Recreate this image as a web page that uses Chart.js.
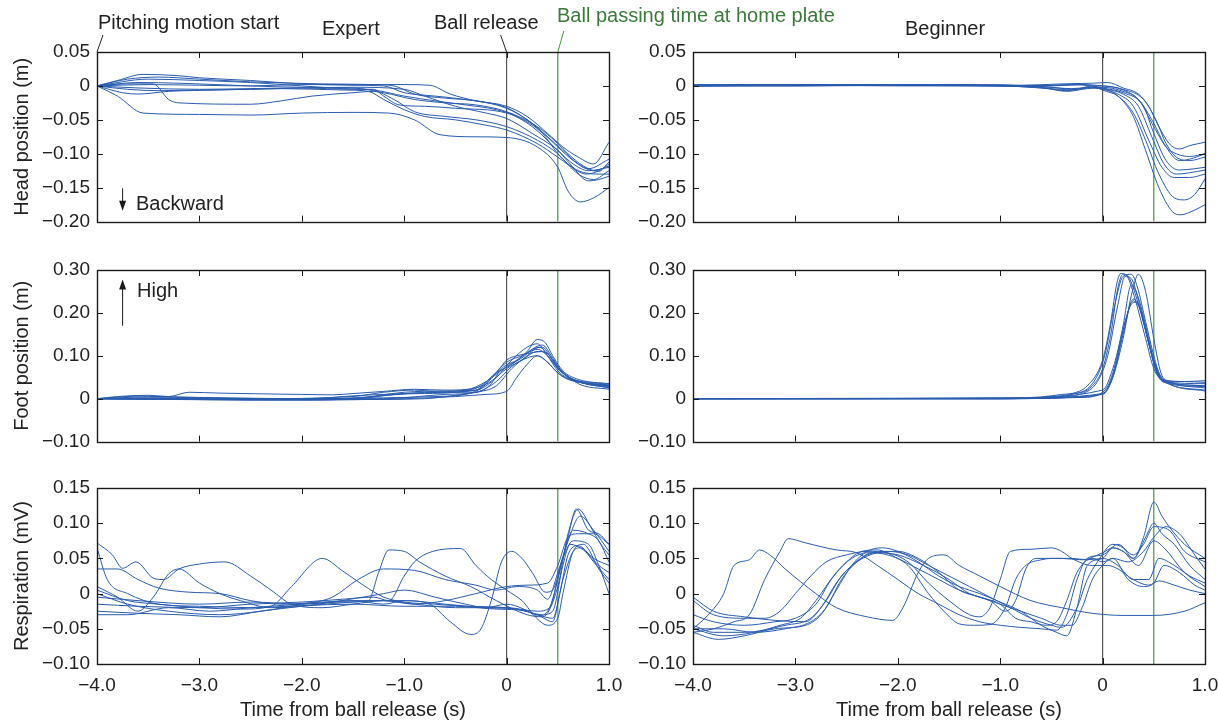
<!DOCTYPE html>
<html>
<head>
<meta charset="utf-8">
<script src="https://cdn.jsdelivr.net/npm/chart.js@4.4.1/dist/chart.umd.min.js"></script>
<style>
body { margin:0; background:#fff; width:1218px; height:724px; overflow:hidden; position:relative;
       font-family:"Liberation Sans", Arial, sans-serif; }
canvas { position:absolute; }
.lbl { position:absolute; font-size:20px; line-height:24px; color:#222; white-space:nowrap; }
</style>
</head>
<body>
<canvas id="c1" width="640" height="240" style="left:0;top:0"></canvas>
<canvas id="c2" width="598" height="240" style="left:620px;top:0"></canvas>
<canvas id="c3" width="640" height="220" style="left:0;top:240px"></canvas>
<canvas id="c4" width="598" height="220" style="left:620px;top:240px"></canvas>
<canvas id="c5" width="640" height="264" style="left:0;top:460px"></canvas>
<canvas id="c6" width="598" height="264" style="left:620px;top:460px"></canvas>

<div class="lbl" style="left:98px;top:10px">Pitching motion start</div>
<div class="lbl" style="left:322px;top:16px">Expert</div>
<div class="lbl" style="left:434px;top:10px">Ball release</div>
<div class="lbl" style="left:557px;top:3px;color:#3b7a3b">Ball passing time at home plate</div>
<div class="lbl" style="left:905px;top:16px">Beginner</div>
<div class="lbl" style="left:136px;top:191px">Backward</div>
<div class="lbl" style="left:137px;top:278px">High</div>

<script>
// ===============================
// Tick values / labels
// ===============================
const xTicks = [-4, -3, -2, -1, 0, 1];
const xTickLabels = ['−4.0', '−3.0', '−2.0', '−1.0', '0', '1.0'];
const headTicks = [-0.20, -0.15, -0.10, -0.05, 0, 0.05];
const headTickLabels = ['−0.20', '−0.15', '−0.10', '−0.05', '0', '0.05'];
const footTicks = [-0.10, 0, 0.10, 0.20, 0.30];
const footTickLabels = ['−0.10', '0', '0.10', '0.20', '0.30'];
const respTicks = [-0.10, -0.05, 0, 0.05, 0.10, 0.15];
const respTickLabels = ['−0.10', '−0.05', '0', '0.05', '0.10', '0.15'];

// event times (s)
const releaseTime = 0;
const plateTime = 0.5;

// ===============================
// Traces: [time, value] pairs
// ===============================
const expertHead = [
  [[-4,0],[-3.8,-0.015],[-3.55,-0.04],[-3,-0.042],[-2.5,-0.043],[-2,-0.04],[-1.5,-0.039],[-1.15,-0.04],[-0.9,-0.05],[-0.65,-0.072],[-0.3,-0.075],[0,-0.076],[0.3,-0.09],[0.5,-0.12],[0.6,-0.155],[0.72,-0.171],[0.85,-0.165],[1,-0.15]],
  [[-4,0],[-3.7,0.003],[-3.45,0.003],[-3.3,-0.02],[-3.2,-0.025],[-2.5,-0.027],[-2.2,-0.022],[-1.9,-0.015],[-1.5,-0.01],[-1.3,-0.008],[-1.1,-0.02],[-0.9,-0.038],[-0.6,-0.045],[-0.3,-0.05],[0,-0.06],[0.3,-0.08],[0.5,-0.1],[0.7,-0.13],[0.85,-0.138],[1,-0.125]],
  [[-4,0],[-3.8,0.008],[-3.55,0.017],[-3.2,0.015],[-3,0.012],[-2.5,0.008],[-2,0.003],[-1.5,0.001],[-1.2,0],[-1,-0.01],[-0.7,-0.015],[-0.4,-0.02],[0,-0.032],[0.2,-0.05],[0.4,-0.075],[0.55,-0.095],[0.7,-0.115],[0.85,-0.125],[1,-0.118]],
  [[-4,0],[-3.7,0.01],[-3.4,0.013],[-3,0.01],[-2.5,0.006],[-1.8,0.003],[-1.3,0.002],[-1.1,0],[-0.9,-0.012],[-0.6,-0.018],[-0.3,-0.022],[0,-0.033],[0.25,-0.055],[0.5,-0.09],[0.65,-0.11],[0.8,-0.122],[1,-0.108]],
  [[-4,0],[-3.5,0.002],[-3,0.001],[-2.5,0],[-2,0.002],[-1.5,0.002],[-1,0.002],[-0.75,0.001],[-0.55,-0.012],[-0.3,-0.022],[0,-0.03],[0.2,-0.045],[0.4,-0.07],[0.55,-0.09],[0.7,-0.105],[0.85,-0.115],[1,-0.083]],
  [[-4,0],[-3.6,-0.003],[-3,-0.005],[-2.5,-0.004],[-2,-0.003],[-1.5,-0.005],[-1.3,-0.005],[-1.2,-0.015],[-1.05,-0.028],[-0.8,-0.03],[-0.5,-0.033],[0,-0.04],[0.25,-0.06],[0.5,-0.095],[0.65,-0.115],[0.8,-0.125],[1,-0.12]],
  [[-4,0],[-3.75,-0.01],[-3.6,-0.012],[-3.3,-0.008],[-2.8,-0.006],[-2.2,-0.004],[-1.6,-0.006],[-1.35,-0.008],[-1.2,-0.02],[-1,-0.035],[-0.8,-0.045],[-0.5,-0.05],[-0.2,-0.058],[0,-0.065],[0.3,-0.085],[0.5,-0.105],[0.7,-0.125],[0.9,-0.13],[1,-0.13]],
  [[-4,0],[-3.6,0.005],[-3.2,0.004],[-2.5,0],[-2,-0.002],[-1.5,-0.003],[-1.2,-0.01],[-0.9,-0.02],[-0.6,-0.025],[-0.3,-0.028],[0,-0.038],[0.3,-0.06],[0.5,-0.085],[0.6,-0.1],[0.75,-0.118],[0.9,-0.126],[1,-0.112]],
  [[-4,0],[-3.5,0.01],[-3,0.008],[-2.5,0.005],[-2,0],[-1.6,-0.004],[-1.3,-0.006],[-1,-0.015],[-0.7,-0.022],[-0.4,-0.028],[-0.1,-0.035],[0.1,-0.045],[0.35,-0.07],[0.5,-0.1],[0.6,-0.115],[0.78,-0.13],[0.9,-0.125],[1,-0.115]],
  [[-4,0],[-3.7,-0.005],[-3.4,-0.007],[-3,-0.006],[-2.5,-0.005],[-2,-0.003],[-1.5,-0.002],[-1,-0.005],[-0.8,-0.015],[-0.5,-0.03],[-0.2,-0.04],[0,-0.048],[0.25,-0.07],[0.5,-0.095],[0.62,-0.115],[0.8,-0.14],[0.9,-0.138],[1,-0.133]]
];

const beginnerHead = [
  [[-4,0],[-3.5,0.002],[-2.5,0.002],[-1.5,0.002],[-0.8,0.001],[-0.4,0.003],[-0.1,0.004],[0.05,0.005],[0.2,-0.003],[0.35,-0.012],[0.45,-0.03],[0.55,-0.06],[0.65,-0.085],[0.75,-0.093],[0.85,-0.088],[1,-0.083]],
  [[-4,0.001],[-3,0.001],[-2,0],[-1,0],[-0.5,-0.004],[-0.3,-0.006],[-0.1,0],[0,0],[0.2,-0.006],[0.35,-0.02],[0.5,-0.055],[0.6,-0.085],[0.75,-0.11],[0.85,-0.108],[1,-0.1]],
  [[-4,0],[-3,0],[-2,0.001],[-1,0.001],[-0.6,-0.002],[-0.35,-0.008],[-0.15,-0.004],[0,-0.002],[0.2,-0.008],[0.35,-0.02],[0.5,-0.06],[0.62,-0.09],[0.72,-0.1],[0.85,-0.104],[1,-0.1]],
  [[-4,0],[-3,0.001],[-2,0.002],[-1,0.001],[-0.6,0],[-0.3,0.002],[-0.1,0],[0,-0.003],[0.2,-0.01],[0.4,-0.03],[0.5,-0.07],[0.62,-0.11],[0.75,-0.124],[0.9,-0.122],[1,-0.12]],
  [[-4,0.002],[-3,0.002],[-2,0.002],[-1,0],[-0.5,-0.002],[-0.3,-0.005],[-0.1,-0.002],[0,-0.004],[0.2,-0.012],[0.35,-0.03],[0.48,-0.075],[0.6,-0.115],[0.72,-0.13],[0.85,-0.128],[1,-0.124]],
  [[-4,0],[-3,0.001],[-2,0.001],[-1,0],[-0.6,-0.003],[-0.35,-0.007],[-0.15,-0.003],[0,-0.005],[0.15,-0.012],[0.3,-0.03],[0.45,-0.08],[0.58,-0.12],[0.7,-0.135],[0.85,-0.135],[1,-0.13]],
  [[-4,0],[-3,0.002],[-2,0.001],[-1,0],[-0.5,0.001],[-0.25,0.002],[-0.05,-0.002],[0,-0.006],[0.15,-0.015],[0.3,-0.04],[0.42,-0.08],[0.55,-0.13],[0.7,-0.165],[0.8,-0.168],[0.9,-0.16],[1,-0.137]],
  [[-4,0.001],[-3,0.001],[-2,0.002],[-1,0.001],[-0.6,-0.001],[-0.3,-0.004],[-0.1,-0.002],[0,-0.004],[0.15,-0.015],[0.3,-0.045],[0.42,-0.095],[0.55,-0.15],[0.68,-0.185],[0.76,-0.19],[0.9,-0.183],[1,-0.175]],
  [[-4,0],[-3,0],[-2,0.001],[-1,0.001],[-0.5,0],[-0.2,0.002],[0,0],[0.2,-0.005],[0.4,-0.02],[0.52,-0.05],[0.62,-0.085],[0.72,-0.105],[0.85,-0.11],[1,-0.105]]
];

const expertFoot = [
  [[-4,0],[-3.8,0.005],[-3.5,0.008],[-3.3,0.005],[-3.1,0.015],[-2.8,0.013],[-2,0.01],[-1.7,0.009],[-1.5,0.012],[-1.2,0.017],[-0.9,0.022],[-0.6,0.02],[-0.3,0.025],[-0.1,0.05],[0.05,0.09],[0.2,0.12],[0.3,0.128],[0.4,0.1],[0.5,0.065],[0.6,0.048],[0.8,0.038],[1,0.034]],
  [[-4,0],[-3.5,0.004],[-2.5,0],[-1.5,0.005],[-1.2,0.015],[-0.9,0.02],[-0.6,0.015],[-0.3,0.02],[-0.15,0.05],[0,0.085],[0.15,0.1],[0.3,0.115],[0.4,0.1],[0.5,0.07],[0.65,0.045],[1,0.03]],
  [[-4,0],[-3,-0.002],[-2,-0.003],[-1.5,0],[-1,0.015],[-0.6,0.018],[-0.3,0.02],[-0.1,0.06],[0,0.09],[0.1,0.1],[0.2,0.105],[0.35,0.11],[0.45,0.085],[0.55,0.06],[0.7,0.04],[1,0.025]],
  [[-4,0],[-3,-0.002],[-2,-0.003],[-1,0],[-0.5,0.005],[-0.2,0.01],[0,0.017],[0.1,0.05],[0.2,0.08],[0.3,0.1],[0.4,0.085],[0.5,0.06],[0.65,0.042],[1,0.03]],
  [[-4,0],[-2.5,-0.002],[-1.5,-0.001],[-1.1,0.01],[-0.8,0.012],[-0.5,0.015],[-0.25,0.03],[-0.1,0.06],[0.05,0.08],[0.2,0.11],[0.3,0.138],[0.38,0.13],[0.45,0.1],[0.55,0.065],[0.7,0.045],[1,0.035]],
  [[-4,0],[-3,0],[-2,-0.002],[-1.3,0.005],[-0.8,0.015],[-0.4,0.02],[-0.2,0.04],[0,0.075],[0.15,0.095],[0.28,0.12],[0.35,0.125],[0.45,0.095],[0.55,0.06],[0.7,0.04],[1,0.028]],
  [[-4,0],[-2.5,-0.003],[-1.5,-0.002],[-0.8,0],[-0.5,0.008],[-0.3,0.015],[-0.1,0.03],[0.05,0.07],[0.2,0.1],[0.32,0.12],[0.42,0.1],[0.52,0.07],[0.7,0.035],[1,0.022]],
  [[-4,0],[-3.6,0.006],[-3,0.003],[-2,0],[-1.4,0.008],[-1,0.012],[-0.6,0.015],[-0.3,0.015],[-0.15,0.035],[-0.05,0.07],[0.1,0.09],[0.25,0.115],[0.35,0.12],[0.45,0.09],[0.55,0.06],[0.75,0.038],[1,0.03]],
  [[-4,0],[-3,0],[-2,0],[-1.2,0.002],[-0.7,0.005],[-0.4,0.01],[-0.2,0.03],[0,0.07],[0.15,0.09],[0.3,0.11],[0.4,0.105],[0.5,0.07],[0.7,0.04],[1,0.026]],
  [[-4,0],[-3.5,0.002],[-2,0],[-1.2,0],[-0.6,0.01],[-0.3,0.015],[-0.1,0.04],[0.05,0.075],[0.2,0.095],[0.3,0.1],[0.4,0.085],[0.5,0.06],[0.6,0.045],[1,0.032]]
];

const beginnerFoot = [
  [[-4,0],[-2,0.001],[-1,0.002],[-0.6,0.004],[-0.4,0.01],[-0.2,0.015],[-0.1,0.03],[0,0.07],[0.08,0.15],[0.15,0.26],[0.2,0.29],[0.25,0.285],[0.35,0.22],[0.45,0.13],[0.53,0.06],[0.6,0.042],[0.8,0.04],[1,0.038]],
  [[-4,0],[-1,0.001],[-0.5,0.005],[-0.3,0.012],[-0.15,0.03],[0,0.09],[0.08,0.18],[0.14,0.27],[0.18,0.292],[0.24,0.285],[0.32,0.23],[0.42,0.14],[0.5,0.07],[0.58,0.045],[0.8,0.04],[1,0.042]],
  [[-4,0],[-1,0.001],[-0.5,0.004],[-0.3,0.01],[-0.1,0.035],[0.02,0.1],[0.12,0.22],[0.2,0.285],[0.28,0.29],[0.34,0.26],[0.42,0.18],[0.5,0.1],[0.56,0.055],[0.62,0.04],[1,0.03]],
  [[-4,0],[-1,0],[-0.5,0.003],[-0.2,0.012],[-0.05,0.04],[0.05,0.1],[0.15,0.22],[0.22,0.285],[0.28,0.28],[0.36,0.22],[0.45,0.13],[0.52,0.07],[0.6,0.04],[1,0.035]],
  [[-4,0],[-1,0],[-0.3,0.003],[0,0.012],[0.1,0.05],[0.2,0.14],[0.28,0.24],[0.35,0.29],[0.42,0.25],[0.5,0.14],[0.57,0.06],[0.65,0.04],[1,0.025]],
  [[-4,0],[-1,0],[-0.2,0.003],[0,0.015],[0.1,0.06],[0.2,0.17],[0.28,0.265],[0.35,0.235],[0.45,0.14],[0.52,0.07],[0.6,0.04],[1,0.02]],
  [[-4,0],[-1,0],[0,0.01],[0.1,0.05],[0.2,0.15],[0.3,0.232],[0.36,0.215],[0.45,0.13],[0.52,0.065],[0.6,0.038],[1,0.028]],
  [[-4,0],[-1,0],[0,0.012],[0.12,0.07],[0.22,0.18],[0.3,0.228],[0.38,0.2],[0.46,0.12],[0.55,0.06],[0.65,0.035],[1,0.018]],
  [[-4,0],[-1,0.001],[0,0.02],[0.1,0.07],[0.2,0.16],[0.28,0.22],[0.33,0.225],[0.42,0.16],[0.5,0.09],[0.58,0.045],[0.7,0.035],[1,0.03]]
];

const expertResp = [
  [[-4,0.072],[-3.85,0.055],[-3.75,0.036],[-3.62,0.045],[-3.45,0.022],[-3.35,0.02],[-3.2,0.035],[-3,0.042],[-2.75,0.045],[-2.5,0.025],[-2.3,0.005],[-2.1,-0.015],[-1.8,-0.02],[-1.5,-0.015],[-1.2,-0.01],[-0.9,-0.015],[-0.5,-0.02],[0,-0.02],[0.3,-0.025],[0.42,-0.02],[0.5,0.02],[0.6,0.08],[0.68,0.12],[0.8,0.09],[0.9,0.085],[1,0.07]],
  [[-4,0.035],[-3.8,0.035],[-3.6,0.02],[-3.4,0.008],[-3.1,0.002],[-2.8,0],[-2.5,-0.01],[-2.2,-0.015],[-1.8,-0.012],[-1.5,-0.01],[-1.2,-0.015],[-1,-0.01],[-0.6,-0.015],[-0.2,-0.02],[0.1,-0.022],[0.35,-0.03],[0.45,-0.025],[0.55,0.04],[0.62,0.07],[0.75,0.062],[0.9,0.04],[1,0.03]],
  [[-4,0.01],[-3.8,-0.005],[-3.6,-0.025],[-3.45,-0.005],[-3.3,0.028],[-3.2,0.035],[-3,0.015],[-2.8,0],[-2.6,-0.01],[-2.3,-0.02],[-2,-0.018],[-1.7,-0.012],[-1.4,-0.005],[-1.2,0],[-1,0.005],[-0.7,-0.005],[-0.4,-0.015],[-0.2,-0.02],[0,-0.015],[0.3,-0.03],[0.45,-0.035],[0.55,0.02],[0.65,0.06],[0.72,0.065],[0.85,0.045],[1,0.02]],
  [[-4,0.005],[-3.7,-0.01],[-3.4,-0.015],[-3,-0.02],[-2.6,-0.022],[-2.3,-0.018],[-2.1,0.01],[-1.8,0.05],[-1.6,0.032],[-1.4,0.012],[-1.2,-0.005],[-1,-0.012],[-0.7,-0.015],[-0.4,-0.018],[0,-0.02],[0.3,-0.03],[0.45,-0.04],[0.52,0],[0.6,0.055],[0.7,0.068],[0.85,0.05],[1,0.04]],
  [[-4,-0.03],[-3.7,-0.03],[-3.3,-0.02],[-2.9,-0.025],[-2.5,-0.02],[-2,-0.015],[-1.6,-0.012],[-1.35,-0.01],[-1.25,0.03],[-1.15,0.062],[-1,0.06],[-0.85,0.045],[-0.6,0.025],[-0.35,0.01],[-0.1,-0.01],[0.2,-0.03],[0.35,-0.033],[0.5,0.01],[0.6,0.085],[0.7,0.12],[0.82,0.095],[0.92,0.07],[1,0.055]],
  [[-4,-0.015],[-3.6,-0.018],[-3,-0.02],[-2.5,-0.015],[-2,-0.012],[-1.6,-0.008],[-1.3,-0.005],[-1.15,-0.01],[-1,0.025],[-0.9,0.045],[-0.72,0.06],[-0.45,0.064],[-0.3,0.04],[-0.15,0.02],[0,0.005],[0.15,-0.01],[0.3,-0.032],[0.42,-0.02],[0.55,0.05],[0.65,0.09],[0.8,0.085],[0.9,0.075],[1,0.045]],
  [[-4,-0.005],[-3.6,-0.01],[-3,-0.015],[-2.5,-0.012],[-2,-0.015],[-1.5,-0.01],[-1,-0.01],[-0.75,-0.015],[-0.55,-0.04],[-0.35,-0.058],[-0.25,-0.05],[-0.15,-0.01],[-0.05,0.045],[0.05,0.06],[0.15,0.05],[0.25,0.03],[0.38,0.002],[0.45,0.005],[0.55,0.05],[0.65,0.075],[0.8,0.07],[0.9,0.04],[1,0]],
  [[-4,0],[-3.7,-0.015],[-3.3,-0.025],[-2.8,-0.03],[-2.4,-0.025],[-2,-0.015],[-1.7,-0.005],[-1.45,0.02],[-1.2,0.035],[-0.9,0.033],[-0.6,0.02],[-0.3,0.012],[-0.1,0.005],[0.1,0.01],[0.3,0.005],[0.4,-0.008],[0.5,0.03],[0.6,0.075],[0.72,0.11],[0.85,0.09],[1,0.06]],
  [[-4,0.065],[-3.9,0.02],[-3.7,0],[-3.4,-0.015],[-3,-0.018],[-2.5,-0.02],[-2,-0.017],[-1.5,-0.015],[-1,-0.018],[-0.5,-0.018],[-0.1,-0.022],[0.2,-0.025],[0.4,-0.045],[0.5,-0.035],[0.55,0],[0.65,0.06],[0.75,0.07],[0.9,0.035],[1,0.015]],
  [[-4,-0.025],[-3.6,-0.028],[-3.2,-0.03],[-2.8,-0.033],[-2.4,-0.025],[-2,-0.018],[-1.5,-0.012],[-1.2,-0.01],[-0.9,-0.015],[-0.6,-0.01],[-0.3,0],[0,0.01],[0.2,0.012],[0.4,0.015],[0.5,0.04],[0.6,0.08],[0.7,0.085],[0.85,0.085],[1,0.07]]
];

const beginnerResp = [
  [[-4,-0.005],[-3.8,-0.025],[-3.5,-0.033],[-3.2,-0.038],[-2.9,-0.04],[-2.75,-0.02],[-2.6,0.015],[-2.45,0.04],[-2.3,0.055],[-2.1,0.06],[-1.9,0.055],[-1.7,0.04],[-1.5,0.025],[-1.3,0.01],[-1.1,-0.005],[-0.9,-0.02],[-0.7,-0.035],[-0.5,-0.045],[-0.4,-0.048],[-0.25,-0.02],[-0.15,0.02],[-0.05,0.045],[0.1,0.07],[0.2,0.065],[0.3,0.05],[0.42,0.08],[0.5,0.1],[0.58,0.085],[0.7,0.07],[0.85,0.04],[1,0.02]],
  [[-4,-0.055],[-3.8,-0.05],[-3.6,-0.04],[-3.45,-0.03],[-3.3,0.02],[-3.15,0.06],[-3.07,0.078],[-2.9,0.072],[-2.6,0.062],[-2.4,0.058],[-2.2,0.04],[-2,0.02],[-1.8,0],[-1.6,-0.015],[-1.4,-0.03],[-1.2,-0.04],[-1,-0.045],[-0.8,-0.048],[-0.6,-0.05],[-0.45,-0.052],[-0.35,-0.03],[-0.25,0.02],[-0.15,0.05],[0,0.055],[0.15,0.07],[0.3,0.055],[0.4,0.07],[0.5,0.095],[0.65,0.09],[0.8,0.06],[1,0.045]],
  [[-4,-0.05],[-3.85,-0.03],[-3.7,0],[-3.6,0.04],[-3.45,0.048],[-3.35,0.062],[-3.25,0.055],[-3.1,0.035],[-2.8,0],[-2.6,-0.02],[-2.3,-0.033],[-2.05,-0.038],[-1.95,-0.02],[-1.8,0.03],[-1.7,0.05],[-1.55,0.055],[-1.4,0.04],[-1.2,0.025],[-1,0.01],[-0.7,-0.01],[-0.4,-0.02],[-0.1,-0.028],[0.2,-0.031],[0.5,-0.031],[0.8,-0.025],[1,-0.013]],
  [[-4,-0.055],[-3.75,-0.065],[-3.5,-0.06],[-3.2,-0.05],[-2.9,-0.045],[-2.75,-0.03],[-2.6,0.005],[-2.45,0.04],[-2.3,0.06],[-2.15,0.065],[-2,0.06],[-1.8,0.045],[-1.6,0.025],[-1.4,0.01],[-1.2,0],[-1,-0.012],[-0.8,-0.025],[-0.6,-0.045],[-0.45,-0.055],[-0.35,-0.06],[-0.25,-0.02],[-0.15,0.04],[0,0.05],[0.1,0.065],[0.2,0.06],[0.35,0.04],[0.5,0.075],[0.6,0.065],[0.8,0.03],[1,0.01]],
  [[-4,-0.045],[-3.8,-0.055],[-3.5,-0.055],[-3.1,-0.045],[-2.85,-0.035],[-2.7,-0.01],[-2.55,0.025],[-2.4,0.045],[-2.2,0.058],[-2,0.06],[-1.8,0.05],[-1.6,0.03],[-1.4,0.005],[-1.2,-0.005],[-1,-0.015],[-0.85,-0.035],[-0.7,-0.04],[-0.55,-0.045],[-0.45,-0.04],[-0.35,-0.01],[-0.25,0.03],[-0.1,0.05],[0,0.045],[0.1,0.05],[0.25,0.02],[0.4,0.01],[0.5,0.015],[0.6,0.04],[0.75,0.03],[0.9,0.012],[1,0.005]],
  [[-4,-0.01],[-3.8,-0.03],[-3.5,-0.035],[-3.3,-0.035],[-3.15,-0.025],[-3,0],[-2.85,0.025],[-2.7,0.045],[-2.5,0.055],[-2.3,0.06],[-2.1,0.058],[-1.9,0.045],[-1.7,0.015],[-1.5,-0.01],[-1.3,-0.03],[-1.2,-0.033],[-1.1,-0.02],[-1,0.02],[-0.9,0.06],[-0.7,0.063],[-0.5,0.065],[-0.4,0.06],[-0.3,0.05],[-0.1,0.04],[0.05,0.04],[0.15,0.035],[0.3,0.02],[0.45,0.012],[0.55,0.018],[0.7,0.012],[0.85,0.005],[1,0]],
  [[-4,-0.05],[-3.7,-0.05],[-3.4,-0.055],[-3.1,-0.05],[-2.85,-0.04],[-2.7,-0.02],[-2.55,0.02],[-2.4,0.045],[-2.25,0.058],[-2,0.055],[-1.75,0.04],[-1.5,0.02],[-1.3,0],[-1.1,-0.01],[-0.95,-0.025],[-0.85,-0.01],[-0.75,0.035],[-0.65,0.05],[-0.4,0.05],[-0.2,0.048],[0,0.058],[0.1,0.065],[0.2,0.06],[0.3,0.05],[0.4,0.08],[0.5,0.13],[0.58,0.11],[0.65,0.095],[0.8,0.07],[1,0.05]],
  [[-4,-0.03],[-3.8,-0.04],[-3.5,-0.045],[-3.2,-0.04],[-3,-0.035],[-2.8,-0.015],[-2.65,0.02],[-2.5,0.045],[-2.35,0.06],[-2.2,0.062],[-2,0.05],[-1.8,0.035],[-1.6,0.02],[-1.4,0.005],[-1.2,-0.005],[-1,-0.015],[-0.8,-0.025],[-0.6,-0.035],[-0.4,-0.045],[-0.3,-0.045],[-0.2,-0.02],[-0.1,0.02],[0,0.04],[0.1,0.05],[0.25,0.045],[0.4,0.06],[0.5,0.08],[0.62,0.095],[0.75,0.085],[0.9,0.055],[1,0.035]],
  [[-4,-0.05],[-3.7,-0.06],[-3.4,-0.055],[-3.15,-0.045],[-2.95,-0.035],[-2.8,-0.01],[-2.6,0.03],[-2.45,0.05],[-2.3,0.058],[-2.1,0.055],[-1.9,0.04],[-1.7,0],[-1.55,-0.025],[-1.4,-0.043],[-1.25,-0.045],[-1.1,-0.044],[-0.95,-0.02],[-0.85,0.02],[-0.75,0.04],[-0.6,0.048],[-0.5,0.05],[-0.3,0.05],[-0.15,0.048],[0,0.05],[0.15,0.04],[0.3,0.02],[0.45,0.02],[0.55,0.05],[0.7,0.04],[0.85,0.025],[1,0.015]]
];

// arrows (time, from value, to value)
const backwardArrow = [-3.75, -0.151, -0.184];
const highArrow = [-3.75, 0.170, 0.278];

// ===============================
// Defaults
// ===============================
Chart.defaults.font.family = '"Liberation Sans", Arial, sans-serif';
Chart.defaults.color = '#222';

const lineColor = '#2a5caf';
const releaseColor = '#555555';
const plateColor = '#3f9a3f';

// ===============================
// Plugin: box, inward ticks, arrows, leader lines
// ===============================
const framePlugin = {
  id: 'frame',
  afterDraw(chart, args, opts) {
    const ctx = chart.ctx;
    const a = chart.chartArea;
    const xs = chart.scales.x;
    const ys = chart.scales.y;
    ctx.save();
    ctx.strokeStyle = '#1a1a1a';
    ctx.lineWidth = 1;
    // inward ticks
    ctx.beginPath();
    xTicks.forEach(t => {
      const px = Math.round(xs.getPixelForValue(t)) + 0.5;
      ctx.moveTo(px, a.bottom); ctx.lineTo(px, a.bottom - 6);
      ctx.moveTo(px, a.top); ctx.lineTo(px, a.top + 6);
    });
    opts.yTicks.forEach(v => {
      const py = Math.round(ys.getPixelForValue(v)) + 0.5;
      ctx.moveTo(a.left, py); ctx.lineTo(a.left + 6, py);
      ctx.moveTo(a.right, py); ctx.lineTo(a.right - 6, py);
    });
    ctx.stroke();
    // box
    ctx.lineWidth = 1.4;
    ctx.strokeRect(Math.round(a.left) + 0.5, Math.round(a.top) + 0.5,
                   Math.round(a.right - a.left), Math.round(a.bottom - a.top));

    // arrow
    if (opts.arrow) {
      const [t, v0, v1] = opts.arrow;
      const px = xs.getPixelForValue(t);
      const y0 = ys.getPixelForValue(v0);
      const y1 = ys.getPixelForValue(v1);
      const dir = y1 > y0 ? 1 : -1;
      ctx.lineWidth = 1;
      ctx.beginPath();
      ctx.moveTo(px, y0); ctx.lineTo(px, y1 - dir * 8);
      ctx.stroke();
      ctx.fillStyle = '#1a1a1a';
      ctx.beginPath();
      ctx.moveTo(px, y1);
      ctx.lineTo(px - 3.5, y1 - dir * 10);
      ctx.lineTo(px + 3.5, y1 - dir * 10);
      ctx.closePath();
      ctx.fill();
    }

    // leader lines to the annotations
    if (opts.leaders) {
      ctx.lineWidth = 1;
      const lead = (t, dx, dy, color) => {
        const px = xs.getPixelForValue(t);
        ctx.strokeStyle = color;
        ctx.beginPath();
        ctx.moveTo(px, a.top);
        ctx.lineTo(px + dx, a.top - dy);
        ctx.stroke();
      };
      lead(-4, 6, 17, '#222');
      lead(releaseTime, -6, 17, '#222');
      lead(plateTime, 6, 21, plateColor);
    }
    ctx.restore();
  }
};

// ===============================
// Build one panel
// ===============================
function maakPaneel(id, traces, yTicks, yLabels, opt) {
  const datasets = traces.map(tr => ({
    data: tr.map(p => ({ x: p[0], y: p[1] })),
    borderColor: lineColor,
    borderWidth: 1,
    pointRadius: 0,
    fill: false,
    cubicInterpolationMode: 'monotone'
  }));
  const yMin = yTicks[0], yMax = yTicks[yTicks.length - 1];
  datasets.push({
    data: [{ x: releaseTime, y: yMin }, { x: releaseTime, y: yMax }],
    borderColor: releaseColor, borderWidth: 1.2, pointRadius: 0
  });
  datasets.push({
    data: [{ x: plateTime, y: yMin }, { x: plateTime, y: yMax }],
    borderColor: plateColor, borderWidth: 1.2, pointRadius: 0
  });

  new Chart(document.getElementById(id), {
    type: 'line',
    data: { datasets: datasets },
    plugins: [framePlugin],
    options: {
      responsive: false,
      animation: false,
      events: [],
      layout: { padding: { top: opt.padTop, right: opt.padRight, left: 0, bottom: 0 } },
      plugins: {
        legend: { display: false },
        tooltip: { enabled: false },
        frame: { yTicks: yTicks, arrow: opt.arrow || null, leaders: !!opt.leaders }
      },
      scales: {
        x: {
          type: 'linear', min: -4, max: 1,
          afterBuildTicks: s => { s.ticks = xTicks.map(v => ({ value: v })); },
          afterFit: s => { s.height = opt.xH; s.paddingLeft = 0; s.paddingRight = 0; },
          grid: { display: false, drawTicks: false },
          border: { display: false },
          ticks: {
            display: !!opt.xLabels, autoSkip: false, maxRotation: 0, padding: 10,
            font: { size: 19 },
            callback: (v, i) => xTickLabels[i]
          },
          title: {
            display: !!opt.xLabels, text: 'Time from ball release (s)',
            font: { size: 20 }, padding: { top: 0, bottom: 2 }
          }
        },
        y: {
          type: 'linear', min: yMin, max: yMax,
          afterBuildTicks: s => { s.ticks = yTicks.map(v => ({ value: v })); },
          afterFit: s => { s.width = opt.yW; },
          grid: { display: false, drawTicks: false },
          border: { display: false },
          ticks: { padding: 7, font: { size: 19 }, callback: (v, i) => yLabels[i] },
          title: {
            display: !!opt.yTitle, text: opt.yTitle || '',
            font: { size: 20 }, padding: { top: 10, bottom: 0 }
          }
        }
      }
    }
  });
}

// left column canvases are 640 wide (overlapping the right column) so the last tick label fits
const links = { padRight: 31, yW: 97 };
const rechts = { padRight: 13, yW: 73 };

maakPaneel('c1', expertHead, headTicks, headTickLabels,
  { ...links, padTop: 52, xH: 13, yTitle: 'Head position (m)', arrow: backwardArrow, leaders: true });
maakPaneel('c2', beginnerHead, headTicks, headTickLabels,
  { ...rechts, padTop: 52, xH: 13 });
maakPaneel('c3', expertFoot, footTicks, footTickLabels,
  { ...links, padTop: 30, xH: 14, yTitle: 'Foot position (m)', arrow: highArrow });
maakPaneel('c4', beginnerFoot, footTicks, footTickLabels,
  { ...rechts, padTop: 30, xH: 14 });
maakPaneel('c5', expertResp, respTicks, respTickLabels,
  { ...links, padTop: 28, xH: 60, yTitle: 'Respiration (mV)', xLabels: true });
maakPaneel('c6', beginnerResp, respTicks, respTickLabels,
  { ...rechts, padTop: 28, xH: 60, xLabels: true });
</script>
</body>
</html>
